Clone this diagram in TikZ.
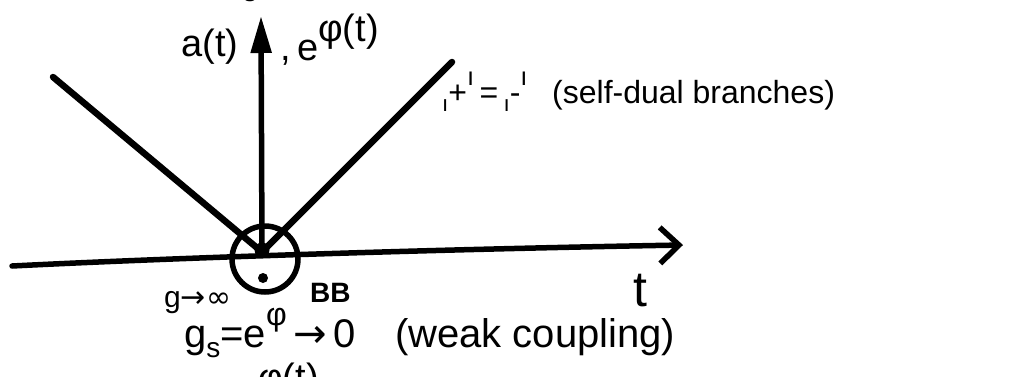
\documentclass[tikz,border=0pt]{standalone}
\usepackage{fontspec}
\setmainfont{Liberation Sans}
\newfontfamily\sym{DejaVu Sans}
\usetikzlibrary{arrows.meta}
\newcommand{\lowsub}[1]{\raisebox{-0.25em}{\scalebox{0.7}{#1}}}
\newcommand{\highsup}[1]{\raisebox{0.55em}{\scalebox{0.8}{#1}}}
\newcommand{\bigsup}[1]{\raisebox{0.5em}{#1}}
\begin{document}
\begin{tikzpicture}[x=1pt,y=1pt,
  axis/.style={line width=5.5pt, line cap=round, line join=round},
  branch/.style={line width=6.5pt, line cap=round},
  lbl/.style={inner sep=0pt, font=\fontsize{38}{44}\selectfont},
  big/.style={inner sep=0pt, font=\fontsize{40}{46}\selectfont},
  mid/.style={inner sep=0pt, font=\fontsize{32}{38}\selectfont},
  small/.style={inner sep=0pt, font=\fontsize{30}{34}\selectfont},
]
\useasboundingbox (0,0) rectangle (1036,-376);
\clip (0,0) rectangle (1036,-376);
% geometry
\coordinate (O) at (262,-252);
\coordinate (ytip) at (261,-16);
\coordinate (xl) at (12,-266);
\coordinate (xr) at (683,-245);
\coordinate (bl) at (53,-77);
\coordinate (br) at (452,-62);
% axes
\draw[axis, -{Straight Barb[length=19pt,width=36pt,line width=5.5pt]}] (xl) .. controls (150,-259) and (400,-250) .. (xr);
\draw[axis, -{Triangle[length=37pt,width=20pt]}] (O) -- (ytip);
% branches
\draw[branch] (bl) -- (O);
\draw[branch] (br) -- (O);
% big bang circle
\node[draw, circle, line width=5.5pt, minimum size=66pt, inner sep=0pt] (bb) at (265,-259) {};
\node[circle, fill, inner sep=0pt, minimum size=15pt] (ctr) at (262,-250) {};
\node[circle, fill, inner sep=0pt, minimum size=10pt] (dot) at (263,-278) {};
% labels
\node[lbl] (at) at (210,-47) {a(t)};
\node[lbl, anchor=base west] (ephi) at (280,-60) {,\,e\bigsup{φ(t)}};
\node[mid, anchor=base west] (eq) at (442,-103) {\lowsub{ı}+\highsup{ı}\,=\,\lowsub{ı}-\highsup{ı}};
\node[mid, anchor=base west] (sd) at (552,-103) {(self-dual branches)};
\node[inner sep=0pt, font=\fontsize{50}{56}\selectfont] (t) at (640,-291) {t};
\node[small, anchor=base west] (ginf) at (164,-307) {g{\sym→}{\sym∞}};
\node[inner sep=0pt, font=\fontsize{28}{32}\selectfont\bfseries, anchor=base west] (BB) at (310,-302) {BB};
\node[big, anchor=base west] (gs) at (184,-347) {g\lowsub{s}=e\highsup{φ}\,{\sym→}\,0};
\node[big, anchor=base west] (weak) at (395,-347) {(weak coupling)};
\node[lbl, anchor=base west] (phib) at (258,-390) {φ(t)};
\node[lbl, anchor=base west] (top) at (222,8) {g\lowsub{s}\,=\,e\highsup{φ}\,{\sym→}\,{\sym∞}\quad(strong coupling)};
\end{tikzpicture}
\end{document}
